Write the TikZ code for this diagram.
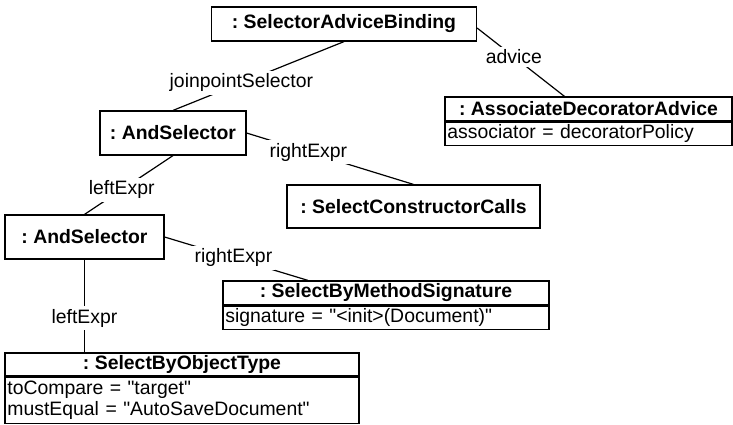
\documentclass[tikz,border=0pt]{standalone}
\usepackage{fontspec}
\newfontfamily\umlfont{Liberation Sans}
\frenchspacing

\begin{document}
\begin{tikzpicture}[x=0.5pt, y=-0.5pt,
    font=\umlfont\fontsize{9.7}{11.6}\selectfont,
    obj/.style={draw, line width=0.6pt, inner sep=0pt, font=\umlfont\fontsize{9.7}{11.6}\selectfont\bfseries},
    attr/.style={draw, line width=0.6pt, anchor=north, align=left, inner xsep=1.2pt, inner ysep=0pt, font=\umlfont\fontsize{9.7}{10.5}\selectfont},
    role/.style={fill=white, inner sep=1.5pt},
    link/.style={line width=0.6pt}]

    \useasboundingbox (0,0) rectangle (733,424);

    % nodes
    \node[obj, minimum width=132.5pt, minimum height=17pt] at (344,24) (sab) {: SelectorAdviceBinding};
    \node[obj, minimum width=73pt, minimum height=22pt] at (173,133) (and1) {: AndSelector};
    \node[obj, minimum width=126.5pt, minimum height=21.5pt] at (413.5,206.5) (scc) {: SelectConstructorCalls};
    \node[obj, minimum width=143.5pt, minimum height=12pt] at (588.5,109) (ada) {: AssociateDecoratorAdvice};
    \node[attr, text width=141.1pt, minimum height=11.5pt] at (ada.south) (adaattr) {associator = decoratorPolicy};
    \node[obj, minimum width=79.5pt, minimum height=22pt] at (84.5,237) (and2) {: AndSelector};
    \node[obj, minimum width=163pt, minimum height=12pt] at (386,293) (sbms) {: SelectByMethodSignature};
    \node[attr, text width=160.6pt, minimum height=11.5pt] at (sbms.south) (sbmsattr) {signature = "<init>(Document)"};
    \node[obj, minimum width=177pt, minimum height=11.5pt] at (182,364.5) (sbot) {: SelectByObjectType};
    \node[attr, text width=174.6pt, minimum height=23pt] at (sbot.south) (sbotattr) {toCompare = "target"\\ mustEqual = "AutoSaveDocument"};

    % paths
    \draw[link] (sab.south) -- node[role, pos=0.6] {joinpointSelector} (and1.north); % binding -> selector
    \draw[link] ([yshift=-2pt]sab.east) -- node[role, pos=0.42] {advice} ([xshift=-12pt]ada.north); % binding -> advice

    \draw[link] (and1.east) -- node[role, pos=0.37] {rightExpr} (scc.north); % and -> constructor calls
    \draw[link] (and1.south) -- node[role, pos=0.58] {leftExpr} (and2.north); % and -> inner and

    \draw[link] (and2.east) -- node[role, pos=0.48] {rightExpr} ([xshift=-39pt]sbms.north); % inner and -> method signature
    \draw[link] (and2.south) -- node[role, pos=0.63] {leftExpr} (and2.south |- sbot.north); % inner and -> object type

\end{tikzpicture}
\end{document}
